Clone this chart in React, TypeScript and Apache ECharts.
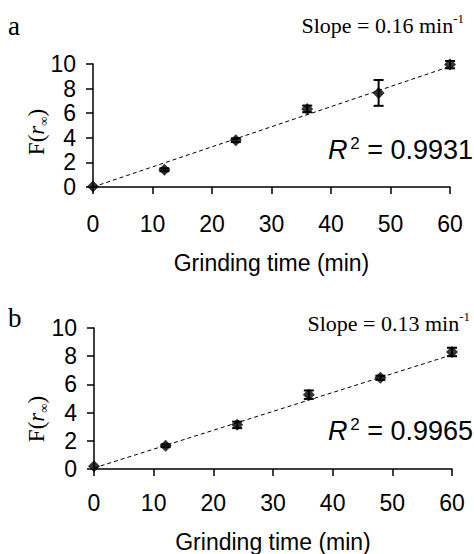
import React, { useEffect, useRef } from "react";
import * as echarts from "echarts";

// Panel a
const timesA = [0, 12, 24, 36, 48, 60];
const valuesA = [0.05, 1.4, 3.8, 6.35, 7.65, 9.95];
const errorsA = [0, 0.12, 0.15, 0.27, 1.05, 0.3];
const fitA = [[0, 0.0], [60, 9.8]];

// Panel b
const timesB = [0, 12, 24, 36, 48, 60];
const valuesB = [0.2, 1.65, 3.13, 5.27, 6.47, 8.3];
const errorsB = [0, 0.1, 0.23, 0.3, 0.15, 0.3];
const fitB = [[0, 0.07], [60, 8.1]];

const xTicks = { min: 0, max: 60, interval: 10 };
const yTicks = { min: 0, max: 10, interval: 2 };

const SANS = "Liberation Sans, Arial, sans-serif";
const SERIF = "Liberation Serif, Times New Roman, serif";

function errorBarSeries(xIdx: number, ts: number[], vs: number[], es: number[]) {
  return {
    type: "custom",
    xAxisIndex: xIdx,
    yAxisIndex: xIdx,
    z: 3,
    data: ts.map((t, i) => [t, vs[i], es[i]]),
    renderItem: (params: any, api: any) => {
      const x = api.value(0);
      const y = api.value(1);
      const e = api.value(2);
      if (!e) return { type: "group", children: [] };
      const top = api.coord([x, y + e]);
      const bot = api.coord([x, y - e]);
      const hw = 5;
      const st = { stroke: "#000", lineWidth: 2 };
      return {
        type: "group",
        children: [
          { type: "line", shape: { x1: top[0], y1: top[1], x2: bot[0], y2: bot[1] }, style: st },
          { type: "line", shape: { x1: top[0] - hw, y1: top[1], x2: top[0] + hw, y2: top[1] }, style: st },
          { type: "line", shape: { x1: bot[0] - hw, y1: bot[1], x2: bot[0] + hw, y2: bot[1] }, style: st },
        ],
      };
    },
  };
}

function xAxis(gridIndex: number, nameGap: number, labelMargin: number) {
  return {
    type: "value",
    gridIndex,
    ...xTicks,
    name: "Grinding time (min)",
    nameLocation: "middle",
    nameGap,
    nameTextStyle: { fontFamily: SANS, fontSize: 23, color: "#000" },
    axisLine: { show: true, lineStyle: { color: "#000", width: 1.5 } },
    axisTick: { show: true, length: 7, lineStyle: { color: "#000", width: 1.5 } },
    axisLabel: { fontFamily: SANS, fontSize: 23, color: "#000", margin: labelMargin },
    splitLine: { show: false },
  };
}

function yAxis(gridIndex: number) {
  return {
    type: "value",
    gridIndex,
    ...yTicks,
    axisLine: { show: true, lineStyle: { color: "#000", width: 1.5 } },
    axisTick: { show: true, length: 7, lineStyle: { color: "#000", width: 1.5 } },
    axisLabel: { fontFamily: SANS, fontSize: 23, color: "#000", margin: 17 },
    splitLine: { show: false },
  };
}

function yLabel(x: number, y: number) {
  return {
    type: "text",
    x,
    y,
    rotation: Math.PI / 2,
    style: {
      text: "{n|F(}{i|r}{s|∞}{n|)}",
      align: "center",
      verticalAlign: "middle",
      rich: {
        n: { fontFamily: SERIF, fontSize: 23, fill: "#000", lineHeight: 28 },
        i: { fontFamily: SERIF, fontSize: 23, fontStyle: "italic", fill: "#000", lineHeight: 28 },
        s: { fontFamily: SERIF, fontSize: 13, fill: "#000", verticalAlign: "bottom", lineHeight: 16 },
      },
    },
  };
}

function slopeText(x: number, y: number, s: string) {
  return {
    type: "text",
    x,
    y,
    style: {
      text: `{n|Slope = ${s} min}{s|-1}`,
      align: "right",
      verticalAlign: "middle",
      rich: {
        n: { fontFamily: SERIF, fontSize: 22, fill: "#000", lineHeight: 26 },
        s: { fontFamily: SERIF, fontSize: 13, fill: "#000", verticalAlign: "top", lineHeight: 14 },
      },
    },
  };
}

function r2Text(x: number, y: number, s: string) {
  return {
    type: "text",
    x,
    y,
    style: {
      text: `{i|R}{sp| }{s|2}{n| = ${s}}`,
      align: "right",
      verticalAlign: "middle",
      rich: {
        i: { fontFamily: SANS, fontSize: 27, fontStyle: "italic", fill: "#000", lineHeight: 30 },
        sp: { fontFamily: SANS, fontSize: 10, fill: "#000", lineHeight: 30 },
        s: { fontFamily: SANS, fontSize: 17, fill: "#000", verticalAlign: "top", lineHeight: 18 },
        n: { fontFamily: SANS, fontSize: 27, fill: "#000", lineHeight: 30 },
      },
    },
  };
}

function panelLetter(x: number, y: number, s: string) {
  return {
    type: "text",
    x,
    y,
    style: { text: s, fontFamily: SERIF, fontSize: 27, fill: "#000", align: "left", verticalAlign: "middle" },
  };
}

export default function App() {
  const ref = useRef<HTMLDivElement>(null);
  useEffect(() => {
    if (!ref.current) return;
    const chart = echarts.init(ref.current, undefined, { renderer: "svg" });
    chart.setOption({
      animation: false,
      backgroundColor: "#fff",
      grid: [
        { left: 93, top: 64, width: 357, height: 123 },
        { left: 94, top: 328, width: 358, height: 142 },
      ],
      xAxis: [xAxis(0, 64, 25), xAxis(1, 61, 22)],
      yAxis: [yAxis(0), yAxis(1)],
      series: [
        {
          type: "line",
          xAxisIndex: 0,
          yAxisIndex: 0,
          data: fitA,
          symbol: "none",
          lineStyle: { color: "#000", width: 1, type: [4, 3] },
          z: 1,
        },
        {
          type: "line",
          xAxisIndex: 1,
          yAxisIndex: 1,
          data: fitB,
          symbol: "none",
          lineStyle: { color: "#000", width: 1, type: [4, 3] },
          z: 1,
        },
        errorBarSeries(0, timesA, valuesA, errorsA),
        errorBarSeries(1, timesB, valuesB, errorsB),
        {
          type: "scatter",
          xAxisIndex: 0,
          yAxisIndex: 0,
          data: timesA.map((t, i) => [t, valuesA[i]]),
          symbol: "diamond",
          symbolSize: 12,
          itemStyle: { color: "#000" },
          z: 4,
        },
        {
          type: "scatter",
          xAxisIndex: 1,
          yAxisIndex: 1,
          data: timesB.map((t, i) => [t, valuesB[i]]),
          symbol: "diamond",
          symbolSize: 12,
          itemStyle: { color: "#000" },
          z: 4,
        },
      ],
      graphic: [
        panelLetter(8, 26, "a"),
        panelLetter(8, 318, "b"),
        slopeText(464, 25, "0.16"),
        slopeText(470, 323, "0.13"),
        r2Text(473, 150, "0.9931"),
        r2Text(473, 431, "0.9965"),
        yLabel(36, 132),
        yLabel(36, 419),
      ],
    });
    return () => chart.dispose();
  }, []);
  return (
    <div
      ref={ref}
      style={{ position: "fixed", left: 0, top: 0, width: 474, height: 554 }}
    />
  );
}
